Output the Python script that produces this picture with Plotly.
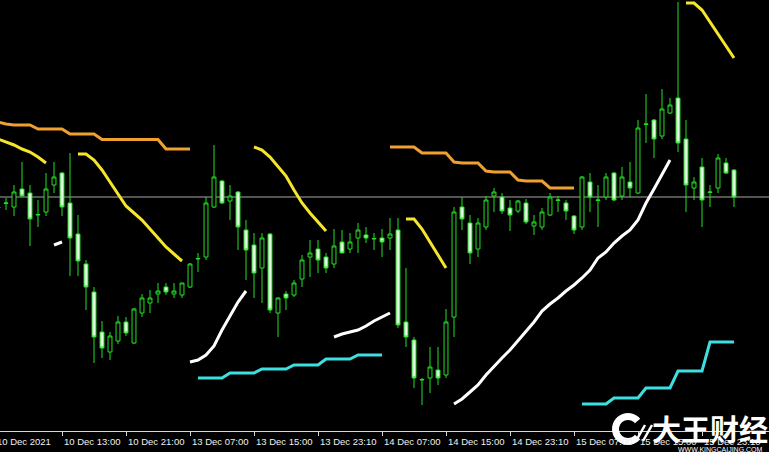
import math
import plotly.graph_objects as go

# ---- candle data (hourly bars, index 0..92) ----
open_ = [1779.2, 1779.65, 1779.3, 1781.1, 1780.7, 1778.5, 1778.8, 1781.5, 1782.7, 1779.7,
         1776.6, 1773.6, 1770.8, 1766.8, 1764.8, 1765.9, 1767.8, 1765.7, 1768.7, 1769.7,
         1770.6, 1771.3, 1770.6, 1770.5, 1771.3, 1774.1, 1774.3, 1779.3, 1781.9, 1779.9,
         1780.8, 1777.0, 1775.5, 1773.2, 1776.6, 1768.7, 1770.6, 1770.5, 1772.1, 1774.3,
         1775.1, 1774.3, 1773.6, 1775.8, 1775.1, 1776.2, 1776.5, 1776.1, 1776.2, 1776.2,
         1777.0, 1767.8, 1766.0, 1762.0, 1762.2, 1763.0, 1762.5, 1768.3, 1779.3, 1777.7,
         1775.1, 1777.3, 1780.4, 1780.3, 1779.2, 1778.9, 1779.7, 1777.4, 1777.3, 1778.5,
         1779.95, 1779.7, 1778.4, 1777.3, 1781.8, 1779.95, 1780.3, 1782.7, 1780.4, 1781.8,
         1780.7, 1787.55, 1788.0, 1786.4, 1788.7, 1790.2, 1786.1, 1781.2, 1783.3, 1780.75,
         1781.2, 1783.7, 1783.0]
high = [1779.6, 1780.2, 1781.5, 1783.8, 1781.5, 1780.0, 1782.7, 1783.8, 1782.8, 1784.7,
        1778.5, 1774.0, 1771.3, 1767.9, 1766.8, 1768.4, 1768.3, 1769.2, 1770.6, 1771.0,
        1771.7, 1771.7, 1771.7, 1771.7, 1773.7, 1774.7, 1780.3, 1785.5, 1782.0, 1781.5,
        1780.9, 1778.0, 1776.7, 1776.7, 1776.7, 1770.3, 1770.9, 1772.0, 1774.5, 1776.0,
        1776.0, 1774.7, 1777.1, 1777.0, 1776.7, 1777.7, 1777.3, 1776.7, 1777.1, 1778.2,
        1778.2, 1773.2, 1766.3, 1762.2, 1765.3, 1765.3, 1769.1, 1779.3, 1780.3, 1778.5,
        1778.2, 1780.4, 1781.2, 1780.7, 1780.0, 1780.0, 1780.1, 1778.5, 1779.2, 1780.7,
        1780.4, 1780.0, 1778.5, 1782.4, 1782.7, 1781.5, 1782.7, 1782.8, 1783.3, 1783.8,
        1788.0, 1790.6, 1788.1, 1791.1, 1790.2, 1799.8, 1788.0, 1782.3, 1784.2, 1781.5,
        1784.6, 1784.2, 1783.1]
low = [1778.6, 1779.0, 1778.4, 1780.4, 1775.4, 1777.3, 1778.4, 1780.7, 1778.4, 1772.4,
       1772.4, 1769.0, 1763.7, 1764.2, 1764.0, 1765.6, 1766.4, 1765.6, 1768.3, 1768.7,
       1769.7, 1770.5, 1770.2, 1770.2, 1771.2, 1772.8, 1774.0, 1779.2, 1779.6, 1778.0,
       1775.0, 1772.0, 1770.2, 1769.7, 1768.7, 1766.3, 1769.0, 1770.3, 1771.3, 1772.3,
       1772.7, 1772.7, 1773.2, 1774.7, 1774.7, 1774.7, 1775.7, 1775.0, 1774.3, 1775.0,
       1767.2, 1765.3, 1761.2, 1759.5, 1760.7, 1761.5, 1762.2, 1766.3, 1777.0, 1773.6,
       1774.3, 1777.0, 1778.8, 1778.6, 1776.9, 1778.7, 1777.6, 1776.5, 1777.0, 1778.4,
       1778.8, 1778.0, 1776.6, 1777.0, 1778.8, 1777.3, 1780.0, 1779.9, 1780.0, 1780.3,
       1780.6, 1785.7, 1784.2, 1786.1, 1788.6, 1784.8, 1778.8, 1780.0, 1777.3, 1779.3,
       1780.7, 1782.6, 1779.3]
close = [1779.3, 1779.7, 1780.8, 1780.4, 1778.1, 1778.55, 1781.1, 1782.3, 1779.3, 1776.2,
         1773.9, 1771.3, 1766.3, 1765.2, 1766.4, 1767.8, 1766.7, 1769.1, 1770.2, 1770.2,
         1770.9, 1770.8, 1770.9, 1771.7, 1773.6, 1774.15, 1779.7, 1782.3, 1779.7, 1780.4,
         1777.3, 1775.0, 1772.7, 1776.2, 1769.0, 1770.2, 1770.2, 1771.7, 1774.0, 1774.7,
         1774.0, 1773.2, 1775.4, 1774.7, 1775.8, 1777.0, 1776.2, 1776.15, 1775.8, 1776.6,
         1767.5, 1766.3, 1762.2, 1762.05, 1763.3, 1762.2, 1767.8, 1778.8, 1778.1, 1774.7,
         1777.7, 1780.0, 1780.8, 1778.9, 1778.5, 1779.9, 1777.8, 1777.8, 1778.8, 1780.3,
         1780.0, 1778.9, 1777.0, 1782.3, 1780.3, 1780.0, 1782.3, 1780.0, 1782.3, 1781.2,
         1787.2, 1787.6, 1786.1, 1789.1, 1789.5, 1785.7, 1781.5, 1781.8, 1780.0, 1780.8,
         1784.2, 1782.7, 1780.3]

bid_price = 1780.3

# ---- x-axis labels ----
tick_idx = [0, 8, 16, 24, 32, 40, 48, 56, 64, 72, 80, 88]
tick_text = ["10 Dec 2021", "10 Dec 13:00", "10 Dec 21:00", "13 Dec 07:00", "13 Dec 15:00",
             "13 Dec 23:10", "14 Dec 07:00", "14 Dec 15:00", "14 Dec 23:10", "15 Dec 07:00",
             "15 Dec 15:00", "15 Dec 23:10"]

# ---- indicator segments: (start index, values) ----
orange_a_start = 0
orange_a = [1787.8, 1787.6, 1787.5, 1787.5, 1787.5, 1787.1, 1787.1, 1787.1, 1787.1, 1786.6,
            1786.6, 1786.6, 1786.6, 1786.05, 1786.05, 1786.05, 1786.05, 1786.05, 1786.05, 1786.05,
            1786.05, 1785.1, 1785.1, 1785.1, 1785.1]
orange_b_start = 49
orange_b = [1785.3, 1785.3, 1785.3, 1785.3, 1784.7, 1784.7, 1784.7, 1784.7, 1783.8, 1783.7,
            1783.7, 1783.7, 1782.9, 1782.8, 1782.8, 1782.8, 1782.0, 1781.9, 1781.9, 1781.9,
            1781.2, 1781.2, 1781.2, 1781.2]

yellow_1_start = 0
yellow_1 = [1786.1, 1785.8, 1785.5, 1785.1, 1784.8, 1784.3, 1783.7]
yellow_2_start = 10
yellow_2 = [1784.6, 1784.6, 1784.0, 1783.0, 1781.8, 1780.6, 1779.4, 1778.7, 1778.0, 1777.1,
            1776.2, 1775.3, 1774.6, 1773.9]
yellow_3_start = 32
yellow_3 = [1785.3, 1785.0, 1784.3, 1783.4, 1782.4, 1781.0, 1779.7, 1778.7, 1777.8, 1776.9]
yellow_4_start = 51
yellow_4 = [1778.1, 1778.1, 1777.1, 1775.8, 1774.5, 1773.2]
yellow_5_start = 86
yellow_5 = [1799.7, 1799.7, 1799.0, 1797.8, 1796.6, 1795.3, 1794.2]

white_1_start = 7
white_1 = [1775.5, 1775.8]
white_2_start = 24
white_2 = [1763.8, 1764.0, 1764.5, 1765.4, 1767.0, 1768.4, 1769.8, 1770.9]
white_3_start = 42
white_3 = [1766.3, 1766.6, 1766.8, 1767.0, 1767.4, 1767.9, 1768.3, 1768.7]
white_4_start = 57
white_4 = [1759.6, 1760.1, 1760.8, 1761.5, 1762.5, 1763.4, 1764.2, 1765.0, 1765.9, 1766.9,
           1767.8, 1768.9, 1769.6, 1770.2, 1770.9, 1771.5, 1772.2, 1773.0, 1774.2, 1774.8,
           1775.7, 1776.4, 1777.0, 1778.0, 1779.7, 1781.1, 1782.6, 1784.0]

cyan_1_start = 25
cyan_1 = [1762.2, 1762.2, 1762.2, 1762.2, 1762.7, 1762.7, 1762.7, 1762.7, 1763.1, 1763.1,
          1763.1, 1763.1, 1763.5, 1763.5, 1763.5, 1763.5, 1764.1, 1764.1, 1764.1, 1764.1,
          1764.5, 1764.5, 1764.5, 1764.5]
cyan_2_start = 73
cyan_2 = [1759.6, 1759.6, 1759.6, 1759.6, 1760.2, 1760.2, 1760.2, 1760.2, 1761.2, 1761.2,
          1761.2, 1761.2, 1762.9, 1762.9, 1762.9, 1762.9, 1765.8, 1765.8, 1765.8, 1765.8]

W, H = 769, 452
MB = 21
GREEN = "#22e022"
fig = go.Figure()
xs = list(range(len(open_)))

fig.add_trace(go.Candlestick(
    x=xs, open=open_, high=high, low=low, close=close,
    increasing=dict(line=dict(color=GREEN, width=1), fillcolor="#000000"),
    decreasing=dict(line=dict(color=GREEN, width=1), fillcolor="#e4ffe4"),
    whiskerwidth=0, hoverinfo="skip", showlegend=False))


def seg(start, vals, color):
    fig.add_trace(go.Scatter(
        x=list(range(start, start + len(vals))), y=vals, mode="lines",
        line=dict(color=color, width=3), hoverinfo="skip", showlegend=False))


for s, v in [(orange_a_start, orange_a), (orange_b_start, orange_b)]:
    seg(s, v, "#f0a030")
for s, v in [(yellow_1_start, yellow_1), (yellow_2_start, yellow_2), (yellow_3_start, yellow_3),
             (yellow_4_start, yellow_4), (yellow_5_start, yellow_5)]:
    seg(s, v, "#f5e62c")
for s, v in [(white_1_start, white_1), (white_2_start, white_2), (white_3_start, white_3),
             (white_4_start, white_4)]:
    seg(s, v, "#ffffff")
for s, v in [(cyan_1_start, cyan_1), (cyan_2_start, cyan_2)]:
    seg(s, v, "#3de0e0")

# bid price line
fig.add_shape(type="line", xref="paper", x0=0, x1=1, yref="y", y0=bid_price, y1=bid_price,
              line=dict(color="#a8a8a8", width=1), layer="below")

label_font = dict(family="Liberation Sans, Arial, sans-serif", size=9.5, color="#f0f0f0")
annotations = []
for i, t in zip(tick_idx, tick_text):
    if i == 0:
        # first bar sits just left of the visible window
        annotations.append(dict(x=0, xref="paper", y=0, yref="paper", text=t, showarrow=False,
                                xanchor="left", yanchor="top", xshift=-5, yshift=-3,
                                font=label_font))
    else:
        annotations.append(dict(x=i, xref="x", y=0, yref="paper", text=t, showarrow=False,
                                xanchor="left", yanchor="top", xshift=0, yshift=-3,
                                font=label_font))


# ---- watermark (logo + text) ----
def px(xp, yp):
    return xp / W, (H - MB - yp) / (H - MB)


def path_from(points, close_path=False):
    parts = []
    for k, (a, b) in enumerate(points):
        xpp, ypp = px(a, b)
        parts.append(("M" if k == 0 else "L") + f"{xpp:.5f},{ypp:.5f}")
    return " ".join(parts) + (" Z" if close_path else "")


cx, cy, r_out, r_in = 628, 429, 16, 9
angles = [math.radians(a) for a in range(40, 321, 10)]
outer = [(cx + r_out * math.cos(a), cy - r_out * math.sin(a)) for a in angles]
inner = [(cx + r_in * math.cos(a), cy - r_in * math.sin(a)) for a in reversed(angles)]
fig.add_shape(type="path", xref="paper", yref="paper", path=path_from(outer + inner, True),
              fillcolor="#ffffff", line=dict(width=0), layer="above")
for (x0, y0, x1, y1) in [(636, 441, 645, 425), (643, 441, 652, 425)]:
    fig.add_shape(type="path", xref="paper", yref="paper",
                  path=path_from([(x0, y0), (x1, y1)]),
                  line=dict(color="#ffffff", width=2.5), layer="above")

annotations.append(dict(x=1, xref="paper", y=0, yref="paper", text="<b>大王财经</b>",
                        showarrow=False, xanchor="right", yanchor="middle", yshift=3, xshift=1,
                        font=dict(family="Noto Sans CJK SC", size=29, color="#ffffff")))
annotations.append(dict(x=0.995, xref="paper", y=0, yref="paper", text="WWW.KINGCAIJING.COM",
                        showarrow=False, xanchor="right", yanchor="top", yshift=-13,
                        font=dict(family="Liberation Sans, Arial", size=7, color="#ffffff")))

fig.update_layout(
    width=W, height=H,
    margin=dict(l=0, r=0, t=0, b=MB),
    paper_bgcolor="#000000", plot_bgcolor="#000000",
    showlegend=False,
    annotations=annotations,
    xaxis=dict(range=[0.25, 96.375], rangeslider=dict(visible=False), showgrid=False,
               zeroline=False, showline=True, linecolor="#d8d8d8", linewidth=1,
               tickvals=tick_idx, ticks="outside", ticklen=4, tickcolor="#d8d8d8",
               showticklabels=False),
    yaxis=dict(range=[1756.9, 1800.0], showgrid=False, zeroline=False, showticklabels=False,
               showline=False),
)

fig.write_html("out.html", config={"displayModeBar": False},
               post_script="document.body.style.margin='0';document.body.style.background='#000';")
